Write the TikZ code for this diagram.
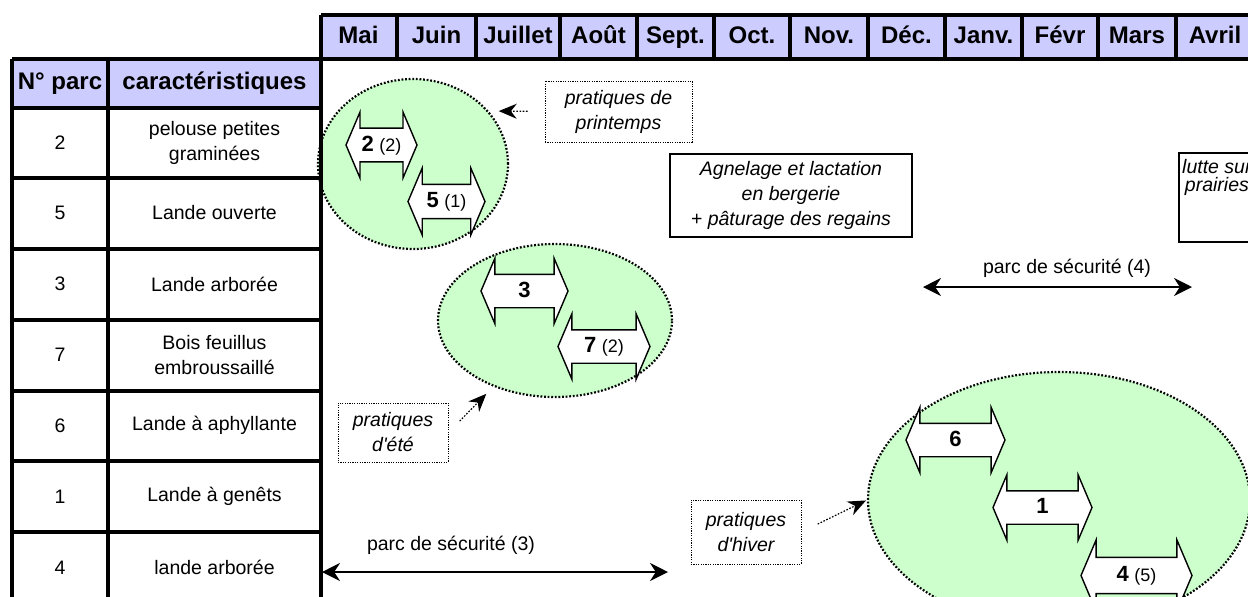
\documentclass[tikz,border=0pt]{standalone}
\usepackage{fontspec}
\setmainfont{Liberation Sans}
\usetikzlibrary{shapes.geometric}
\usetikzlibrary{shapes.arrows}
\usetikzlibrary{arrows.meta}

\definecolor{entete}{HTML}{CCCCFF}
\definecolor{vertpature}{HTML}{CCFFCC}

\newcommand{\numparc}[1]{{\fontsize{11}{13}\selectfont\bfseries #1}}
\newcommand{\nbpass}[1]{{\fontsize{9}{11}\selectfont (#1)}}

\begin{document}
\begin{tikzpicture}[x=0.5pt,y=-0.5pt,
    font=\fontsize{9.75}{12.5}\selectfont,
    grille/.style={line width=2pt},
    titre/.style={font=\fontsize{12}{14}\selectfont\bfseries, text height=9pt, text depth=2.5pt},
    cellule/.style={align=center},
    paturage/.style={ellipse, fill=vertpature, draw, line width=1.1pt, dash pattern=on 0.9pt off 0.9pt, inner sep=0pt},
    parcfleche/.style={double arrow, draw, fill=white, line width=0.7pt, double arrow head extend=8pt, double arrow tip angle=134, inner xsep=1pt, inner ysep=3pt, text height=8pt, text depth=2pt},
    pratique/.style={draw, line width=0.5pt, dash pattern=on 0.6pt off 0.6pt, align=center, font=\fontsize{9.75}{12.5}\selectfont\itshape, inner sep=0pt},
    encadre/.style={draw, line width=0.9pt, align=center, font=\fontsize{9.75}{12.5}\selectfont\itshape, inner sep=0pt},
    renvoi/.style={line width=0.6pt, dash pattern=on 0.8pt off 0.8pt, -{Stealth[length=9pt,width=7.5pt]}},
    securite/.style={line width=1pt, {Stealth[length=9pt,width=9pt]}-{Stealth[length=9pt,width=9pt]}}]
    \useasboundingbox (0,0) rectangle (1248,596);
    \clip (0,0) rectangle (1248,596);

    \fill[entete] (321,14.5) rectangle (1260,59);
    \fill[entete] (12,59) rectangle (321,107.5);

    \node[paturage, minimum width=95pt, minimum height=85pt] (printemps) at (413,164) {};
    \node[paturage, minimum width=117pt, minimum height=76.5pt] (ete) at (555,320.5) {};
    \node[paturage, minimum width=191pt, minimum height=128pt] (hiver) at (1059,500) {};

    \draw[grille] (321,14.5) -- (1260,14.5);
    \draw[grille] (12,59) -- (1260,59);
    \draw[grille] (12,59) -- (12,600);
    \draw[grille] (108,59) -- (108,600);
    \draw[grille] (321,14.5) -- (321,600);
    \foreach \x in {397,476,560,637,714,790,868,945,1022,1098,1176}
        \draw[grille] (\x,14.5) -- (\x,59);
    \foreach \y in {107.5,177.5,248.5,319.5,390.5,461,532}
        \draw[grille] (12,\y) -- (321,\y);

    \node[titre] (mai) at (358.5,37) {Mai};
    \node[titre] (juin) at (436.5,37) {Juin};
    \node[titre] (juil) at (518,37) {Juillet};
    \node[titre] (aout) at (598.5,37) {Août};
    \node[titre] (sept) at (675.5,37) {Sept.};
    \node[titre] (oct) at (752,37) {Oct.};
    \node[titre] (nov) at (829,37) {Nov.};
    \node[titre] (dec) at (906.5,37) {Déc.};
    \node[titre] (janv) at (983.5,37) {Janv.};
    \node[titre] (fevr) at (1060,37) {Févr};
    \node[titre] (mars) at (1137,37) {Mars};
    \node[titre] (avril) at (1215,37) {Avril};

    \node[titre] (hnum) at (60,83) {N° parc};
    \node[titre] (hcar) at (214.5,83) {caractéristiques};
    \node (n2) at (60,142.5) {2};
    \node[cellule] (c2) at (214.5,142.5) {pelouse petites\\graminées};
    \node (n5) at (60,213) {5};
    \node[cellule] (c5) at (214.5,213) {Lande ouverte};
    \node (n3) at (60,284) {3};
    \node[cellule] (c3) at (214.5,284) {Lande arborée};
    \node (n7) at (60,355) {7};
    \node[cellule] (c7) at (214.5,355) {Bois feuillus\\embroussaillé};
    \node (n6) at (60,425.5) {6};
    \node[cellule] (c6) at (214.5,425.5) {Lande à aphyllante};
    \node (n1) at (60,496.5) {1};
    \node[cellule] (c1) at (214.5,496.5) {Lande à genêts};
    \node (n4) at (60,567.5) {4};
    \node[cellule] (c4) at (214.5,567.5) {lande arborée};

    \node[parcfleche, minimum height=35.5pt, minimum width=33pt] (p2) at (381.5,145) {\numparc{2} \nbpass{2}};
    \node[parcfleche, minimum height=38.5pt, minimum width=33.5pt] (p5) at (446.5,201.5) {\numparc{5} \nbpass{1}};
    \node[parcfleche, minimum height=43.5pt, minimum width=29pt] (p3) at (524.5,291) {\numparc{3}};
    \node[parcfleche, minimum height=46pt, minimum width=29.5pt] (p7) at (604,346.5) {\numparc{7} \nbpass{2}};
    \node[parcfleche, minimum height=49.5pt, minimum width=30pt] (p6) at (955.5,440) {\numparc{6}};
    \node[parcfleche, minimum height=49.5pt, minimum width=30.5pt] (p1) at (1042.5,507.5) {\numparc{1}};
    \node[parcfleche, minimum height=55.5pt, minimum width=35.5pt] (p4) at (1136.5,575.5) {\numparc{4} \nbpass{5}};

    \node[pratique, minimum width=73.5pt, minimum height=30.5pt] (nprintemps) at (618.5,111.5) {pratiques de\\printemps};
    \node[pratique, minimum width=55pt, minimum height=29.5pt] (nete) at (393,432.5) {pratiques\\d\textquotesingle été};
    \node[pratique, minimum width=55pt, minimum height=32pt] (nhiver) at (746,532) {pratiques\\d\textquotesingle hiver};
    \draw[renvoi, shorten <=8.5pt, shorten >=5pt] (nprintemps.west) -- (printemps.35);
    \draw[renvoi, shorten <=8pt, shorten >=5pt] (nete.east) -- (ete.227);
    \draw[renvoi, shorten <=9pt, shorten >=0.5pt] (nhiver.east) -- (hiver.west);

    \node[encadre, minimum width=121pt, minimum height=41.5pt] (agnelage) at (791,195.5) {Agnelage et lactation\\en bergerie\\+ pâturage des regains};
    \node[encadre, anchor=north west, minimum width=38pt, minimum height=44.5pt,
        label={[anchor=north, align=center, font=\fontsize{9.75}{9}\selectfont\itshape]north:lutte sur\\prairies}] (lutte) at (1178,152) {};

    \coordinate (s3g) at (322,572);
    \coordinate (s3d) at (668,572);
    \draw[securite] (s3g) -- (s3d);
    \node (ts3) at (451,545) {parc de sécurité (3)};
    \coordinate (s4g) at (923,287);
    \coordinate (s4d) at (1192,287);
    \draw[securite] (s4g) -- (s4d);
    \node (ts4) at (1067,268) {parc de sécurité (4)};
\end{tikzpicture}
\end{document}
